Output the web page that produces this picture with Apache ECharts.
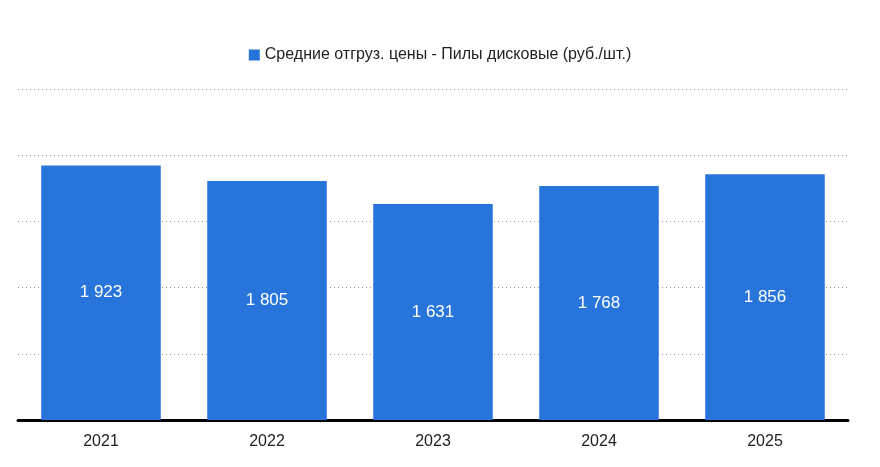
<!DOCTYPE html>
<html lang="ru">
    <head>
        <meta charset="UTF-8" />
        <script src="https://cdn.jsdelivr.net/npm/echarts@6/dist/echarts.min.js"></script>
        <style>
            html, body { margin: 0; padding: 0; background: #fff; }
            #chart { width: 880px; height: 467px; }
        </style>
    </head>
    <body>
        <div id="chart"></div>
        <script type="text/javascript">
            var years = ["2021", "2022", "2023", "2024", "2025"];
            var prices = [1923, 1805, 1631, 1768, 1856];
            var seriesName = "Средние отгруз. цены - Пилы дисковые (руб./шт.)";
            var font = "'Liberation Sans Narrow', 'Arial Narrow', sans-serif";

            var chart = echarts.init(document.getElementById("chart"));
            chart.setOption({
                animation: false,
                textStyle: { fontFamily: font },
                legend: {
                    top: 42,
                    left: "center",
                    icon: "rect",
                    itemWidth: 11,
                    itemHeight: 11,
                    itemGap: 6,
                    textStyle: { fontFamily: font, fontSize: 16, color: "#222" },
                    data: [seriesName]
                },
                grid: { left: 18, right: 32, top: 89, bottom: 47 },
                xAxis: {
                    type: "category",
                    data: years,
                    axisLine: { lineStyle: { color: "#000", width: 3 } },
                    axisTick: { show: false },
                    axisLabel: { fontFamily: font, fontSize: 16, color: "#222", margin: 14 }
                },
                yAxis: {
                    type: "value",
                    min: 0,
                    max: 2500,
                    interval: 500,
                    axisLabel: { show: false },
                    axisLine: { show: false },
                    axisTick: { show: false },
                    splitLine: { lineStyle: { color: "#999", type: [1, 3] } }
                },
                series: [{
                    name: seriesName,
                    type: "bar",
                    data: prices,
                    barWidth: "72%",
                    itemStyle: { color: "#2775db" },
                    label: {
                        show: true,
                        position: "inside",
                        color: "#fff",
                        fontFamily: font,
                        fontSize: 17,
                        formatter: function (p) {
                            return String(p.value).replace(/\B(?=(\d{3})+(?!\d))/g, " ");
                        }
                    }
                }]
            });
        </script>
    </body>
</html>
